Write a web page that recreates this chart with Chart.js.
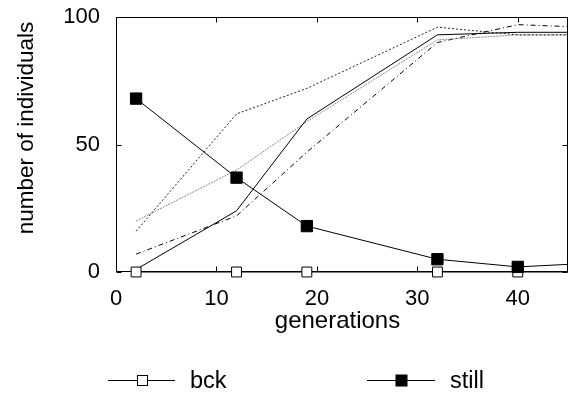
<!DOCTYPE html>
<html>
<head>
<meta charset="utf-8">
<script src="https://cdn.jsdelivr.net/npm/chart.js@4/dist/chart.umd.min.js"></script>
<style>
  html, body { margin: 0; padding: 0; background: #fff; }
  canvas { display: block; }
</style>
</head>
<body>
<canvas id="chart" width="568" height="394"></canvas>
<script>
// Sampled generations (the last sample lies past the visible x range)
const generations = [2, 12, 19, 32, 40, 50];

// Series shown in the legend
const bck   = [0, 0, 0, 0, 0, 0];
const still = [68, 37, 18, 5, 2, 4];

// Unlabelled runs
const runSolid   = [1, 24, 60, 93, 94, 94];
const runDotted  = [16, 62, 72, 96, 93, 93];
const runGray    = [20, 40, 59, 91, 93, 93];
const runDashDot = [7, 22, 47, 90, 97, 95.5];

// Axis ticks and titles
const xTickValues = [0, 10, 20, 30, 40];
const yTickValues = [0, 50, 100];
const xTitle = 'generations';
const yTitle = 'number of individuals';

const FONT = '"Liberation Sans", Arial, Helvetica, sans-serif';
Chart.defaults.font.family = FONT;
Chart.defaults.font.size = 22;
Chart.defaults.color = '#000';

const pts = vals => vals.map((v, i) => ({ x: generations[i], y: v }));

const datasets = [
  { label: 'still', data: pts(still), borderColor: '#000', borderWidth: 1,
    pointStyle: 'rect', pointRadius: 8, pointBackgroundColor: '#000',
    pointBorderColor: '#000', pointBorderWidth: 1, legendSide: 11, clip: false },
  { label: 'bck', data: pts(bck), borderColor: '#000', borderWidth: 1,
    pointStyle: 'rect', pointRadius: 7, pointBackgroundColor: '#fff',
    pointBorderColor: '#000', pointBorderWidth: 1, legendSide: 10, clip: false },
  { label: 'solid', data: pts(runSolid), borderColor: '#000', borderWidth: 1, pointRadius: 0 },
  { label: 'dotted', data: pts(runDotted), borderColor: '#222', borderWidth: 1,
    borderDash: [2, 2], pointRadius: 0 },
  { label: 'gray', data: pts(runGray), borderColor: '#888', borderWidth: 1,
    borderDash: [2, 1], pointRadius: 0 },
  { label: 'dashdot', data: pts(runDashDot), borderColor: '#000', borderWidth: 1,
    borderDash: [5, 3, 1, 3], pointRadius: 0 }
];

// Frame, inward tick marks, axis titles and legend
const framePlugin = {
  id: 'frame',
  beforeDatasetsDraw(chart) {
    const { ctx, chartArea: a, scales } = chart;
    const L = Math.round(a.left) + 0.5, R = Math.round(a.right) - 0.5;
    const T = Math.round(a.top) + 0.5, B = Math.round(a.bottom) - 0.5;
    ctx.save();
    ctx.strokeStyle = '#000';
    ctx.lineWidth = 1;
    ctx.beginPath();
    ctx.rect(L, T, R - L, B - T);
    const tl = 5;
    xTickValues.forEach(v => {
      const px = Math.round(scales.x.getPixelForValue(v)) + 0.5;
      ctx.moveTo(px, B); ctx.lineTo(px, B - tl);
      ctx.moveTo(px, T); ctx.lineTo(px, T + tl);
    });
    yTickValues.forEach(v => {
      const py = Math.round(scales.y.getPixelForValue(v)) + 0.5;
      ctx.moveTo(L, py); ctx.lineTo(L + tl, py);
      ctx.moveTo(R, py); ctx.lineTo(R - tl, py);
    });
    ctx.stroke();
    ctx.restore();
  },
  afterDraw(chart) {
    const { ctx } = chart;
    ctx.save();
    ctx.fillStyle = '#000';
    // x title
    ctx.font = '24px ' + FONT;
    ctx.textAlign = 'center';
    ctx.textBaseline = 'alphabetic';
    ctx.fillText(xTitle, 337.5, 328);
    // y title
    ctx.font = '22.5px ' + FONT;
    ctx.save();
    ctx.translate(33, 128);
    ctx.rotate(-Math.PI / 2);
    ctx.fillText(yTitle, 0, 0);
    ctx.restore();

    // legend: line sample, marker, label
    ctx.font = '23.5px ' + FONT;
    const entries = [
      { ds: chart.data.datasets[1], x0: 108, x1: 175 },
      { ds: chart.data.datasets[0], x0: 367, x1: 435 }
    ];
    const ly = 380.5;
    ctx.textAlign = 'left';
    entries.forEach(e => {
      ctx.strokeStyle = '#000';
      ctx.lineWidth = 1;
      ctx.beginPath();
      ctx.moveTo(e.x0, ly); ctx.lineTo(e.x1, ly);
      ctx.stroke();
      const s = e.ds.legendSide;
      const cx = Math.round((e.x0 + e.x1) / 2) + 0.5;
      ctx.fillStyle = e.ds.pointBackgroundColor;
      ctx.fillRect(cx - s / 2, ly - s / 2, s, s);
      ctx.strokeRect(cx - s / 2, ly - s / 2, s, s);
      ctx.fillStyle = '#000';
      ctx.fillText(e.ds.label, e.x1 + 15, 388);
    });
    ctx.restore();
  }
};

new Chart(document.getElementById('chart'), {
  type: 'line',
  data: { datasets },
  options: {
    responsive: false,
    animation: false,
    devicePixelRatio: 1,
    layout: { autoPadding: false, padding: { top: 17, right: 0, left: 0, bottom: 0 } },
    plugins: { legend: { display: false }, tooltip: { enabled: false } },
    elements: { line: { tension: 0 } },
    scales: {
      x: {
        type: 'linear', min: 0, max: 45,
        grid: { display: false, drawTicks: false },
        border: { display: false },
        ticks: { padding: 14, maxRotation: 0, autoSkip: false },
        afterBuildTicks: s => { s.ticks = xTickValues.map(v => ({ value: v })); },
        afterFit: s => { s.height = 122; s.paddingLeft = 0; s.paddingRight = 0; }
      },
      y: {
        type: 'linear', min: 0, max: 100,
        grid: { display: false, drawTicks: false },
        border: { display: false },
        ticks: { padding: 16 },
        afterBuildTicks: s => { s.ticks = yTickValues.map(v => ({ value: v })); },
        afterFit: s => { s.width = 116; s.paddingTop = 0; s.paddingBottom = 0; }
      }
    }
  },
  plugins: [framePlugin]
});
</script>
</body>
</html>
